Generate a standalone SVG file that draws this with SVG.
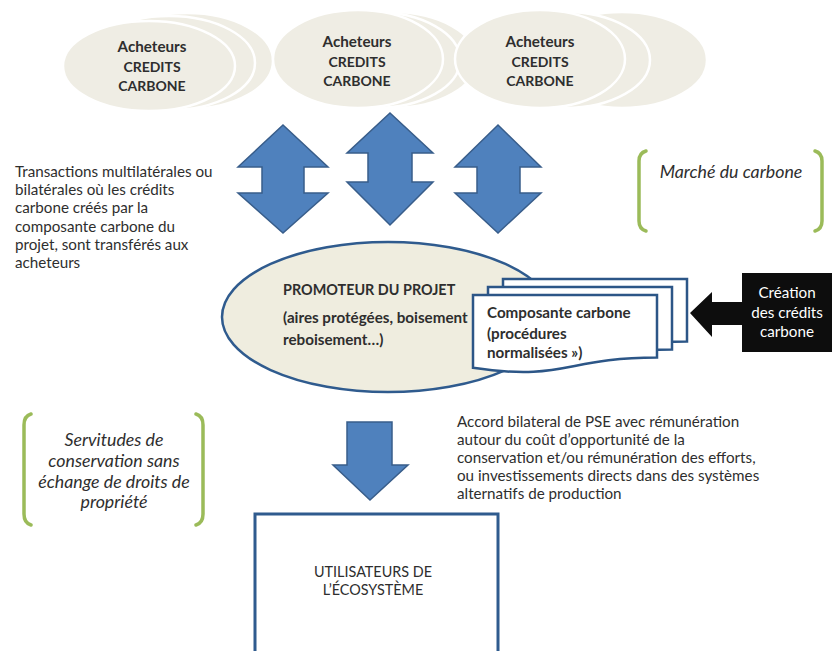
<svg xmlns="http://www.w3.org/2000/svg" width="832" height="651" viewBox="0 0 832 651">
  <style>
    .txt { font-family: Lato, "Liberation Sans", Arial, sans-serif; fill: #2e2e2e; font-size: 15.2px; }
    .b { font-weight: bold; }
    .it { font-style: italic; font-size: 17.8px; }
    .mid { text-anchor: middle; }
    .sm { font-size: 14px; }
    .md { font-size: 14.4px; }
    .lg { font-size: 15.2px; }
    .buyer { fill: #efede4; stroke: #ffffff; stroke-width: 2.5; }
    .dbl { fill: #4f81bd; stroke: #385d8a; stroke-width: 1.5; stroke-linejoin: miter; }
    .card { fill: #ffffff; stroke: #2c5687; stroke-width: 2.5; }
    .bracket { fill: none; stroke: #9bbb59; stroke-width: 3.5; stroke-linecap: round; }
    .wht { fill: #ffffff; }
  </style>

  <rect width="832" height="651" fill="#ffffff"/>

  <!-- Buyers: three stacks of overlapping ellipses -->
  <g id="buyers-1">
    <ellipse class="buyer" cx="187" cy="61" rx="86" ry="48"/>
    <ellipse class="buyer" cx="169" cy="63" rx="86" ry="47"/>
    <ellipse class="buyer" cx="149" cy="66" rx="86" ry="45"/>
    <text class="txt b mid lg" x="152" y="52">Acheteurs</text>
    <text class="txt b mid sm" x="152" y="72">CREDITS</text>
    <text class="txt b mid sm" x="152" y="91">CARBONE</text>
  </g>
  <g id="buyers-2">
    <ellipse class="buyer" cx="392" cy="60" rx="85" ry="48"/>
    <ellipse class="buyer" cx="375" cy="60" rx="85" ry="48"/>
    <ellipse class="buyer" cx="358" cy="59" rx="85" ry="49"/>
    <text class="txt b mid lg" x="357" y="47">Acheteurs</text>
    <text class="txt b mid sm" x="357" y="67">CREDITS</text>
    <text class="txt b mid sm" x="357" y="86">CARBONE</text>
  </g>
  <g id="buyers-3">
    <ellipse class="buyer" cx="622" cy="60" rx="85" ry="48"/>
    <ellipse class="buyer" cx="565" cy="60" rx="85" ry="48"/>
    <ellipse class="buyer" cx="540" cy="59" rx="85" ry="49"/>
    <text class="txt b mid lg" x="540" y="47">Acheteurs</text>
    <text class="txt b mid sm" x="540" y="67">CREDITS</text>
    <text class="txt b mid sm" x="540" y="86">CARBONE</text>
  </g>

  <!-- Connectors: exchange arrows and flows -->
  <g id="connectors">
    <polygon class="dbl" points="283,125 328,167 304,167 304,193 328,193 283,233 238,193 262,193 262,167 238,167"/>
    <polygon class="dbl" points="390,113 433,153 412,153 412,182 433,182 390,225 347,182 368,182 368,153 347,153"/>
    <polygon class="dbl" points="498,125 541,167 520,167 520,193 541,193 498,233 455,193 477,193 477,167 455,167"/>
    <polygon class="dbl" points="347,422 392,422 392,465 408,465 370,500 333,465 347,465"/>
  </g>

  <!-- Side note: transactions -->
  <g id="note-transactions">
    <text class="txt" x="15" y="177">Transactions multilatérales ou</text>
    <text class="txt" x="15" y="195">bilatérales où les crédits</text>
    <text class="txt" x="15" y="213">carbone créés par la</text>
    <text class="txt" x="15" y="232">composante carbone du</text>
    <text class="txt" x="15" y="250">projet, sont transférés aux</text>
    <text class="txt" x="15" y="268">acheteurs</text>
  </g>

  <!-- Carbon market label -->
  <g id="carbon-market">
    <path class="bracket" d="M646,151 Q639,153 639,161 L639,221 Q639,229 646,231"/>
    <path class="bracket" d="M815,151 Q822,153 822,161 L822,221 Q822,229 815,231"/>
    <text class="txt it mid" x="731" y="178">Marché du carbone</text>
  </g>

  <!-- Project developer -->
  <g id="promoteur">
    <ellipse cx="388" cy="317" rx="166" ry="75" fill="#efeddf" stroke="#2f5b8e" stroke-width="2.5"/>
    <text class="txt b md" x="283" y="295">PROMOTEUR DU PROJET</text>
    <text class="txt b lg" x="283" y="323">(aires protégées, boisement</text>
    <text class="txt b lg" x="283" y="345">reboisement…)</text>
  </g>

  <!-- Carbon component: stacked documents -->
  <g id="composante">
    <path class="card" d="M503,279 H687 V341.6 C595,341.6 595,365.4 503,351.8 Z"/>
    <path class="card" d="M488,287 H672 V349.6 C580,349.6 580,373.4 488,359.8 Z"/>
    <path class="card" d="M473,295 H657 V357.6 C565,357.6 565,381.4 473,367.8 Z"/>
    <text class="txt b lg" x="487" y="318">Composante carbone</text>
    <text class="txt b lg" x="487" y="339">(procédures</text>
    <text class="txt b lg" x="487" y="358">normalisées »)</text>
  </g>

  <!-- Carbon credit creation -->
  <g id="creation">
    <polygon fill="#0d0d0d" points="690,313 712,292 712,302 742,302 742,273 832,273 832,352 742,352 742,325 712,325 712,337"/>
    <text class="txt mid wht" x="787" y="298">Création</text>
    <text class="txt mid wht" x="787" y="318">des crédits</text>
    <text class="txt mid wht" x="787" y="337">carbone</text>
  </g>

  <!-- Conservation easements label -->
  <g id="servitudes">
    <path class="bracket" d="M31,414 Q24,416 24,425 L24,514 Q24,523 31,525"/>
    <path class="bracket" d="M196,414 Q203,416 203,425 L203,514 Q203,523 196,525"/>
    <text class="txt it mid" x="114" y="446">Servitudes de</text>
    <text class="txt it mid" x="114" y="467">conservation sans</text>
    <text class="txt it mid" x="114" y="488">échange de droits de</text>
    <text class="txt it mid" x="114" y="508">propriété</text>
  </g>

  <!-- PES agreement note -->
  <g id="note-accord">
    <text class="txt" x="457" y="427">Accord bilateral de PSE avec rémunération</text>
    <text class="txt" x="457" y="445">autour du coût d’opportunité de la</text>
    <text class="txt" x="457" y="463">conservation et/ou rémunération des efforts,</text>
    <text class="txt" x="457" y="481">ou investissements directs dans des systèmes</text>
    <text class="txt" x="457" y="499">alternatifs de production</text>
  </g>

  <!-- Ecosystem users -->
  <g id="utilisateurs">
    <rect x="255" y="514" width="243" height="150" fill="#ffffff" stroke="#2f5b8e" stroke-width="3"/>
    <text class="txt mid md" x="373" y="577">UTILISATEURS DE</text>
    <text class="txt mid md" x="373" y="595">L’ÉCOSYSTÈME</text>
  </g>
</svg>
